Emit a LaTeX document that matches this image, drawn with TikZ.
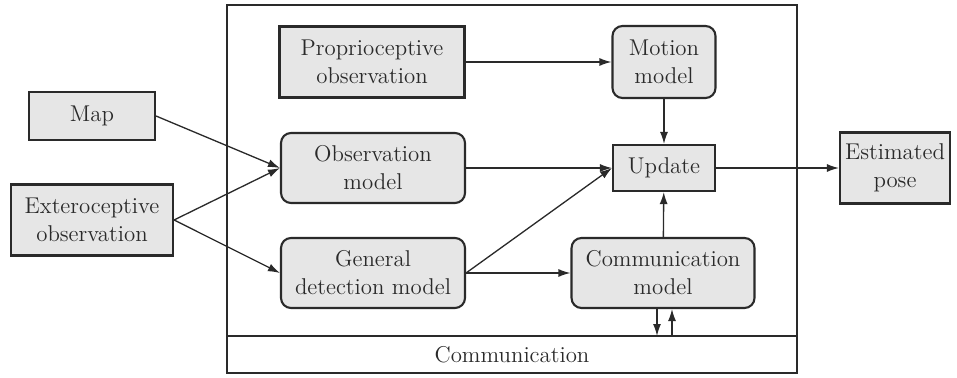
\documentclass[tikz,border=0pt]{standalone}
\usepackage{tikz}
\usetikzlibrary{arrows.meta}
\definecolor{boxfill}{HTML}{E6E6E6}
\definecolor{inkgray}{HTML}{2A2A2A}

\begin{document}
\begin{tikzpicture}[x=0.02cm, y=-0.02cm,
    every node/.style={font=\fontsize{13}{16}\selectfont, text=inkgray, align=center},
    box/.style={draw=inkgray, line width=1.2pt, fill=boxfill, inner sep=0pt},
    rbox/.style={box, rounded corners=0.2cm},
    arr/.style={draw=inkgray, line width=0.75pt, -{Latex[length=2.4mm,width=1.6mm]}}]
      \useasboundingbox (0,0) rectangle (957,378);
      % Frame and communication strip
      \draw[inkgray, line width=0.7pt] (227,5) rectangle (797,373);
      \draw[inkgray, line width=0.7pt] (227,336) -- (797,336);
      \draw[inkgray, line width=1.3pt] (797,132) -- (797,203);
      \node (comm) at (512,355) {Communication};
      % Inputs
      \node[box, minimum width=2.52cm, minimum height=0.96cm] (map) at (92,116) {Map};
      \node[box, minimum width=3.24cm, minimum height=1.42cm] (extero) at (92,220) {Exteroceptive\\observation};
      \node[box, minimum width=3.7cm, minimum height=1.42cm] (proprio) at (372,62) {Proprioceptive\\observation};
      % Models
      \node[rbox, minimum width=2.06cm, minimum height=1.44cm] (motion) at (664,62) {Motion\\model};
      \node[rbox, minimum width=3.68cm, minimum height=1.4cm] (obsmodel) at (373,168) {Observation\\model};
      \node[rbox, minimum width=3.68cm, minimum height=1.4cm] (detmodel) at (373,273) {General\\detection model};
      \node[rbox, minimum width=3.66cm, minimum height=1.4cm] (commodel) at (663,273) {Communication\\model};
      \node[box, minimum width=2.04cm, minimum height=0.92cm] (update) at (664,168) {Update};
      % Output
      \node[box, minimum width=2.2cm, minimum height=1.42cm] (pose) at (895,168) {Estimated\\pose};
      % Connectors
      \draw[arr] (proprio) -- (motion);
      \draw[arr] (motion) -- (update);
      \draw[arr] (map.east) -- (obsmodel.west);
      \draw[arr] (extero.east) -- (obsmodel.west);
      \draw[arr] (extero.east) -- (detmodel.west);
      \draw[arr] (obsmodel) -- (update);
      \draw[arr] (detmodel.east) -- (update.west);
      \draw[arr] (detmodel) -- (commodel);
      \draw[arr] (commodel) -- (update);
      \draw[arr] (update) -- (pose);
      % Exchange with the communication strip
      \coordinate (cdown) at (657,336);
      \coordinate (cup) at (672,336);
      \draw[arr] (commodel.south -| cdown) -- (cdown);
      \draw[arr] (cup) -- (commodel.south -| cup);
\end{tikzpicture}
\end{document}
